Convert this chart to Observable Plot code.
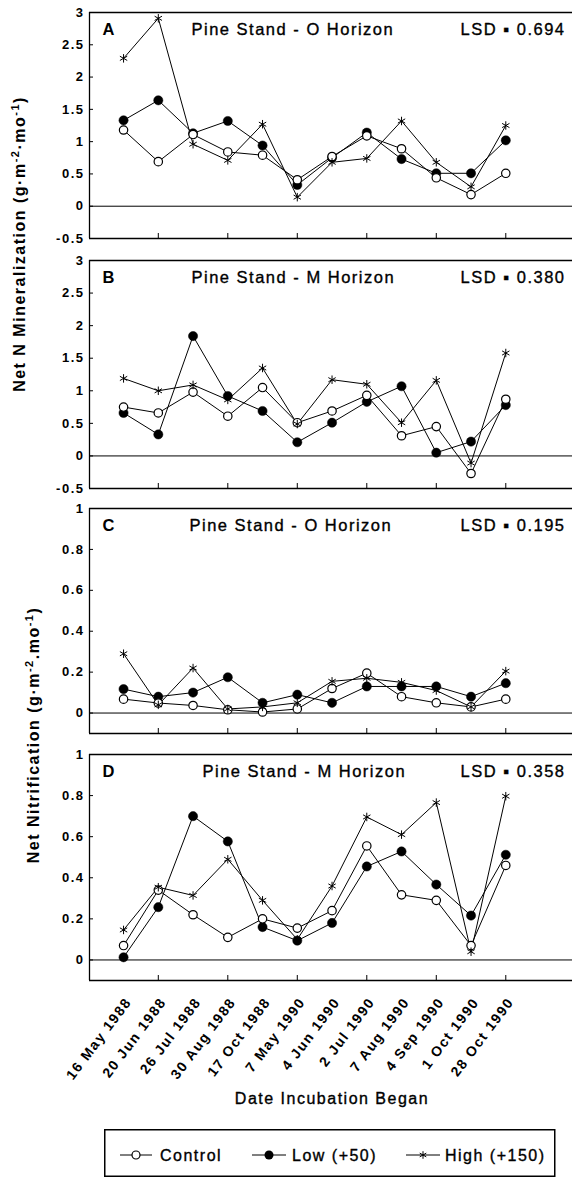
<!DOCTYPE html>
<html><head><meta charset="utf-8">
<script src="https://cdn.jsdelivr.net/npm/d3@7"></script>
<script src="https://cdn.jsdelivr.net/npm/@observablehq/plot@0.6"></script>
<style>
body{margin:0;background:#fff;}
#wrap{position:relative;width:572px;height:1177px;overflow:hidden;background:#fff;font-family:"Liberation Sans",Arial,sans-serif;color:#000;}
</style></head>
<body><div id="wrap"></div>
<script>
// ---- data ----
const dates = ["16 May 1988","20 Jun 1988","26 Jul 1988","30 Aug 1988","17 Oct 1988","7 May 1990","4 Jun 1990","2 Jul 1990","7 Aug 1990","4 Sep 1990","1 Oct 1990","28 Oct 1990"];
const treatments = ["Control","Low (+50)","High (+150)"];
const panelLetters = ["A","B","C","D"];
const panelTitles = ["Pine Stand - O Horizon","Pine Stand - M Horizon","Pine Stand - O Horizon","Pine Stand - M Horizon"];
const lsdLabels = ["LSD \u25AA 0.694","LSD \u25AA 0.380","LSD \u25AA 0.195","LSD \u25AA 0.358"];
const minTicks = [-0.5,0,0.5,1,1.5,2,2.5,3];
const nitTicks = [0,0.2,0.4,0.6,0.8,1];
const xTickIdx = [1,3,5,7,9,11];

const aControl = [1.18,0.69,1.11,0.84,0.79,0.41,0.77,1.09,0.89,0.44,0.18,0.51];
const aLow     = [1.33,1.64,1.13,1.32,0.94,0.33,0.75,1.14,0.73,0.51,0.51,1.02];
const aHigh    = [2.29,2.91,0.96,0.71,1.27,0.14,0.68,0.74,1.32,0.68,0.30,1.25];

const bControl = [0.75,0.66,0.98,0.61,1.05,0.51,0.69,0.93,0.31,0.45,-0.27,0.87];
const bLow     = [0.66,0.33,1.84,0.92,0.69,0.21,0.51,0.83,1.07,0.05,0.22,0.78];
const bHigh    = [1.19,1.00,1.09,0.86,1.35,0.49,1.17,1.10,0.51,1.16,-0.11,1.58];

const cControl = [0.068,0.049,0.037,0.016,0.005,0.02,0.12,0.195,0.08,0.05,0.03,0.068];
const cLow     = [0.117,0.08,0.10,0.175,0.05,0.09,0.05,0.13,0.13,0.13,0.08,0.146];
const cHigh    = [0.29,0.04,0.22,0.02,0.03,0.05,0.155,0.17,0.15,0.11,0.03,0.205];

const dControl = [0.07,0.34,0.22,0.11,0.20,0.155,0.24,0.555,0.317,0.29,0.07,0.46];
const dLow     = [0.013,0.257,0.70,0.577,0.16,0.094,0.18,0.455,0.528,0.367,0.216,0.512];
const dHigh    = [0.146,0.354,0.314,0.49,0.29,0.10,0.36,0.696,0.61,0.766,0.04,0.797];

// ---- layout ----
const W = 572, ML = 89;
const xDomain = [-0.98, 12.92];
const FONT = "Liberation Sans, Arial, sans-serif";
const wrap = document.getElementById("wrap");

function panel(cfg) {
  const {top, height, mt, mb, yDomain, yTicks, series, k, titleX, xLabels} = cfg;
  const rows = [];
  series.forEach((vals, s) => vals.forEach((v, i) => rows.push({t: treatments[s], i, v})));
  const frameH = height - mt - mb;
  const yPerPx = (yDomain[1] - yDomain[0]) / frameH;
  const xPerPx = (xDomain[1] - xDomain[0]) / (W - ML);
  const med = {fill: "black", stroke: "black", strokeWidth: 0.35, paintOrder: "normal"};
  const marks = [
    Plot.ruleY([0], {stroke: "black", strokeWidth: 1}),
    Plot.ruleY(yDomain, {stroke: "black", strokeWidth: 1.3}),
    Plot.ruleX([xDomain[0]], {stroke: "black", strokeWidth: 1.3}),
    Plot.ruleY(yTicks, {x1: xDomain[0], x2: xDomain[0] + 4 * xPerPx, stroke: "black", strokeWidth: 1}),
    Plot.ruleX(xTickIdx, {y1: yDomain[0], y2: yDomain[0] + 5 * yPerPx, stroke: "black", strokeWidth: 1}),
    Plot.axisY({ticks: yTicks, tickSize: 0, tickPadding: 5, tickFormat: d => String(d), fontSize: 13, fontWeight: "bold", label: null}),
    Plot.line(rows, {x: "i", y: "v", z: "t", stroke: "black", strokeWidth: 1}),
    Plot.dot(rows.filter(d => d.t === treatments[1]), {x: "i", y: "v", r: 4.6, fill: "black", stroke: "black", strokeWidth: 0.5}),
    Plot.dot(rows.filter(d => d.t === treatments[0]), {x: "i", y: "v", r: 4.2, fill: "white", stroke: "black", strokeWidth: 1.2}),
    Plot.dot(rows.filter(d => d.t === treatments[2]), {x: "i", y: "v", r: 4, symbol: "asterisk", stroke: "black", strokeWidth: 1}),
    Plot.text([panelLetters[k]], {text: d => d, frameAnchor: "top-left", dx: 13, dy: 22, lineAnchor: "bottom", textAnchor: "start", fontSize: 16.5, fontWeight: "bold", fill: "black"}),
    Plot.text([panelTitles[k]], {text: d => d, frameAnchor: "top-left", dx: titleX - ML, dy: 22, lineAnchor: "bottom", textAnchor: "start", fontSize: 16.5, ...med}),
    Plot.text([lsdLabels[k]], {text: d => d, frameAnchor: "top-right", dx: -7, dy: 22, lineAnchor: "bottom", textAnchor: "end", fontSize: 16.5, ...med})
  ];
  if (xLabels) {
    marks.push(Plot.text(dates.map((d, i) => i), {x: d => d, text: i => dates[i], frameAnchor: "bottom", dx: 5, dy: 19, rotate: -53, textAnchor: "end", lineAnchor: "middle", fontSize: 14, fontWeight: "bold", fill: "black"}));
  }
  const svg = Plot.plot({
    width: W, height, marginLeft: ML, marginRight: 0, marginTop: mt, marginBottom: mb,
    x: {domain: xDomain, axis: null},
    y: {domain: yDomain},
    style: {background: "transparent", overflow: "visible", fontFamily: FONT, letterSpacing: "1.5px", color: "black"},
    marks
  });
  svg.style.position = "absolute";
  svg.style.left = "0px";
  svg.style.top = top + "px";
  wrap.appendChild(svg);
}

panel({top: 0,   height: 250, mt: 12, mb: 12,  yDomain: [-0.5, 3], yTicks: minTicks, series: [aControl, aLow, aHigh], k: 0, titleX: 191});
panel({top: 250, height: 248, mt: 10, mb: 10,  yDomain: [-0.5, 3], yTicks: minTicks, series: [bControl, bLow, bHigh], k: 1, titleX: 191});
panel({top: 498, height: 245, mt: 10, mb: 10,  yDomain: [-0.1, 1], yTicks: nitTicks, series: [cControl, cLow, cHigh], k: 2, titleX: 189});
panel({top: 743, height: 337, mt: 11, mb: 100, yDomain: [-0.1, 1], yTicks: nitTicks, series: [dControl, dLow, dHigh], k: 3, titleX: 202, xLabels: true});

// ---- overlay: axis titles and legend ----
const ov = d3.select(wrap).append("svg")
  .attr("width", W).attr("height", 1177)
  .style("position", "absolute").style("left", "0px").style("top", "0px")
  .style("font-family", FONT).style("letter-spacing", "1.5px").style("white-space", "pre");

function yTitle(x, y, main, dotSep) {
  const t = ov.append("text").attr("transform", `translate(${x},${y}) rotate(-90)`)
    .attr("text-anchor", "middle").attr("font-size", 16).attr("font-weight", "bold");
  t.append("tspan").text(main + "(g\u00B7m");
  t.append("tspan").attr("dy", -6).attr("font-size", 11).text("-2");
  t.append("tspan").attr("dy", 6).text(dotSep + "mo");
  t.append("tspan").attr("dy", -6).attr("font-size", 11).text("-1");
  t.append("tspan").attr("dy", 6).text(")");
}
yTitle(25, 244, "Net   N   Mineralization    ", "\u00B7");
yTitle(39, 735, "Net   Nitrification     ", ".");

ov.append("text").attr("x", 332).attr("y", 1104).attr("text-anchor", "middle")
  .attr("font-size", 16).attr("stroke", "black").attr("stroke-width", 0.35).text("Date Incubation Began");

// legend
const lg = ov.append("g");
lg.append("rect").attr("x", 104.75).attr("y", 1129.75).attr("width", 450).attr("height", 46.5)
  .attr("fill", "none").attr("stroke", "black").attr("stroke-width", 1.5);
const legendItems = [
  {t: treatments[0], x1: 120, x2: 152, tx: 160},
  {t: treatments[1], x1: 252, x2: 286, tx: 292},
  {t: treatments[2], x1: 406, x2: 440, tx: 445}
];
legendItems.forEach((it, s) => {
  const cy = 1155, cx = (it.x1 + it.x2) / 2;
  lg.append("line").attr("x1", it.x1).attr("x2", it.x2).attr("y1", cy).attr("y2", cy).attr("stroke", "black").attr("stroke-width", 1);
  if (s === 0) lg.append("circle").attr("cx", cx).attr("cy", cy).attr("r", 4).attr("fill", "white").attr("stroke", "black").attr("stroke-width", 1.2);
  if (s === 1) lg.append("circle").attr("cx", cx).attr("cy", cy).attr("r", 4.5).attr("fill", "black");
  if (s === 2) lg.append("path").attr("transform", `translate(${cx},${cy})`).attr("d", d3.symbol(d3.symbolAsterisk, 40)()).attr("fill", "none").attr("stroke", "black").attr("stroke-width", 1);
  lg.append("text").attr("x", it.tx).attr("y", 1161).attr("font-size", 16).attr("stroke", "black").attr("stroke-width", 0.35).text(it.t);
});
</script>
</body></html>
